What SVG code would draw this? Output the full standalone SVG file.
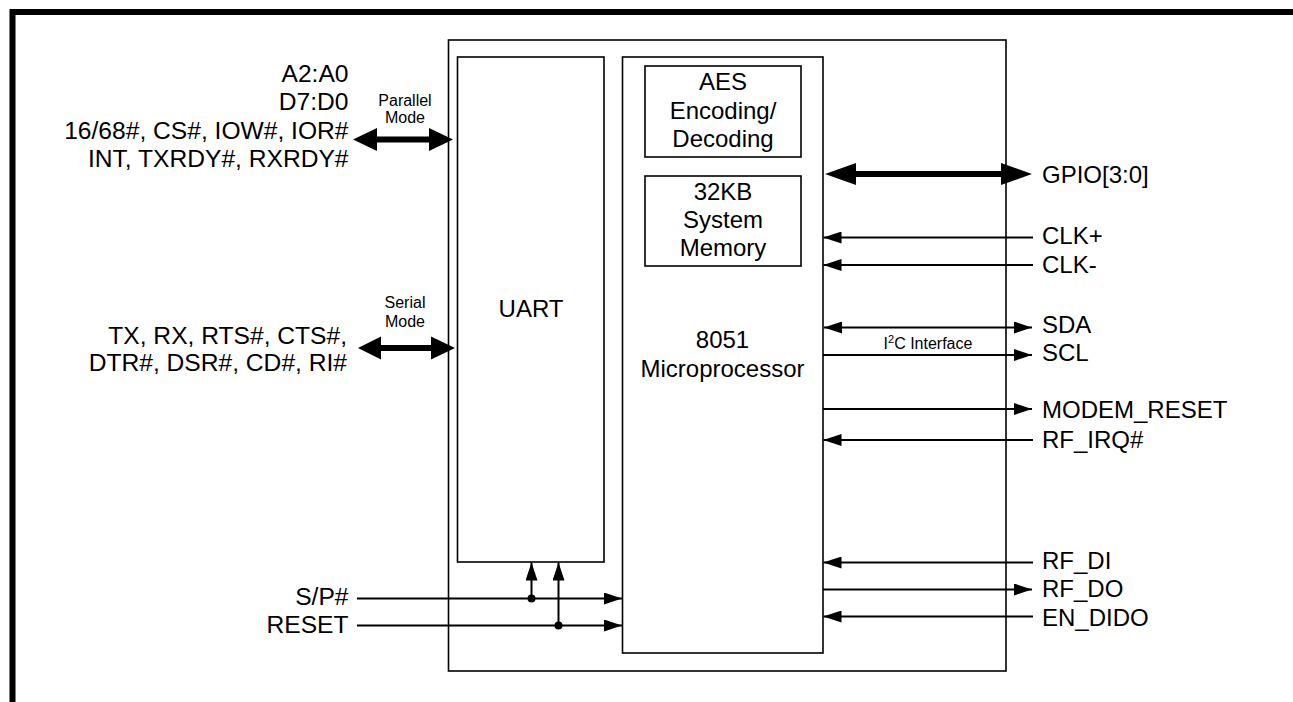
<svg xmlns="http://www.w3.org/2000/svg" width="1293" height="702" viewBox="0 0 1293 702">
<style>
  .box { fill: #fff; stroke: #000; stroke-width: 1.6; }
  .lbl { font-family: "Liberation Sans", Arial, sans-serif; font-size: 24px; fill: #000; }
  .lft { font-size: 24.6px; }
  .sm { font-family: "Liberation Sans", Arial, sans-serif; font-size: 16px; fill: #000; }
  .mid { text-anchor: middle; }
  .end { text-anchor: end; }
  .wire { stroke: #000; stroke-width: 2; fill: none; }
  .bus { fill: #000; stroke: none; }
  .dot { fill: #000; }
</style>
<defs>
  <marker id="ah" markerUnits="userSpaceOnUse" markerWidth="18" markerHeight="12" refX="18" refY="6" orient="auto-start-reverse">
    <path d="M0,0 L18,6 L0,12 z" fill="#000"/>
  </marker>
</defs>
<rect width="1293" height="702" fill="#fff"/>
<path d="M12.5,702 V12 H1293" fill="none" stroke="#000" stroke-width="6" stroke-linejoin="miter"/>

<g id="chip">
  <rect class="box" x="448.5" y="40" width="557.5" height="631"/>
</g>
<g id="uart">
  <rect class="box" x="457.5" y="57" width="146.5" height="505"/>
  <text class="lbl mid" x="531" y="317">UART</text>
</g>
<g id="mcu">
  <rect class="box" x="622.5" y="57" width="200.5" height="596"/>
  <text class="lbl mid" x="722.5" y="348">8051</text>
  <text class="lbl mid" x="722.5" y="376.5">Microprocessor</text>
</g>
<g id="aes">
  <rect class="box" x="645" y="66" width="156" height="91"/>
  <text class="lbl mid" x="723" y="90">AES</text>
  <text class="lbl mid" x="723" y="118.5">Encoding/</text>
  <text class="lbl mid" x="723" y="147">Decoding</text>
</g>
<g id="memory">
  <rect class="box" x="645" y="176" width="156" height="90"/>
  <text class="lbl mid" x="723" y="199.5">32KB</text>
  <text class="lbl mid" x="723" y="227.5">System</text>
  <text class="lbl mid" x="723" y="255.5">Memory</text>
</g>

<g id="connectors">
  <polygon class="bus" points="353,139.5 377,128 377,136.5 429,136.5 429,128 453,139.5 429,151 429,142.5 377,142.5 377,151"/>
  <polygon class="bus" points="358,348 381,336.5 381,345 431,345 431,336.5 455,348 431,359.5 431,351 381,351 381,359.5"/>
  <polygon class="bus" points="825,174 856,163 856,171 1001,171 1001,163 1032,174 1001,185 1001,177 856,177 856,185"/>
  <line class="wire" x1="1033" y1="237.5" x2="823.5" y2="237.5" marker-end="url(#ah)"/>
  <line class="wire" x1="1033" y1="265" x2="823.5" y2="265" marker-end="url(#ah)"/>
  <line class="wire" x1="824" y1="327.5" x2="1032" y2="327.5" marker-start="url(#ah)" marker-end="url(#ah)"/>
  <line class="wire" x1="823" y1="355" x2="1032" y2="355" marker-end="url(#ah)"/>
  <line class="wire" x1="823" y1="409" x2="1032" y2="409" marker-end="url(#ah)"/>
  <line class="wire" x1="1033" y1="440" x2="823.5" y2="440" marker-end="url(#ah)"/>
  <line class="wire" x1="1033" y1="562.5" x2="823.5" y2="562.5" marker-end="url(#ah)"/>
  <line class="wire" x1="823" y1="589.5" x2="1032" y2="589.5" marker-end="url(#ah)"/>
  <line class="wire" x1="1033" y1="616.5" x2="823.5" y2="616.5" marker-end="url(#ah)"/>
  <line class="wire" x1="357" y1="598.5" x2="622" y2="598.5" marker-end="url(#ah)"/>
  <line class="wire" x1="357" y1="625.5" x2="622" y2="625.5" marker-end="url(#ah)"/>
  <line class="wire" x1="531.5" y1="598.5" x2="531.5" y2="562.5" marker-end="url(#ah)"/>
  <line class="wire" x1="558.5" y1="625.5" x2="558.5" y2="562.5" marker-end="url(#ah)"/>
  <circle class="dot" cx="531.5" cy="598.5" r="4"/>
  <circle class="dot" cx="558.5" cy="625.5" r="4"/>
</g>

<g id="labels-left">
  <text class="lbl lft end" x="348.5" y="81.5">A2:A0</text>
  <text class="lbl lft end" x="348.5" y="110">D7:D0</text>
  <text class="lbl lft end" x="348.5" y="138.5">16/68#, CS#, IOW#, IOR#</text>
  <text class="lbl lft end" x="348.5" y="166.5">INT, TXRDY#, RXRDY#</text>
  <text class="sm mid" x="405" y="105.5">Parallel</text>
  <text class="sm mid" x="405" y="123">Mode</text>
  <text class="sm mid" x="405" y="308">Serial</text>
  <text class="sm mid" x="405" y="326.5">Mode</text>
  <text class="lbl lft end" x="347" y="343.5">TX, RX, RTS#, CTS#,</text>
  <text class="lbl lft end" x="347" y="370.5">DTR#, DSR#, CD#, RI#</text>
  <text class="lbl lft end" x="348.5" y="604.5">S/P#</text>
  <text class="lbl lft end" x="348.5" y="633">RESET</text>
</g>

<g id="labels-right">
  <text class="lbl" x="1042" y="182.5">GPIO[3:0]</text>
  <text class="lbl" x="1042" y="244">CLK+</text>
  <text class="lbl" x="1042" y="272.5">CLK-</text>
  <text class="lbl" x="1042" y="332.5">SDA</text>
  <text class="lbl" x="1042" y="361">SCL</text>
  <text class="lbl" x="1042" y="417.5">MODEM_RESET</text>
  <text class="lbl" x="1042" y="447.5">RF_IRQ#</text>
  <text class="lbl" x="1042" y="569">RF_DI</text>
  <text class="lbl" x="1042" y="597">RF_DO</text>
  <text class="lbl" x="1042" y="626">EN_DIDO</text>
  <text class="sm mid" x="928" y="349">I<tspan font-size="11" dy="-6">2</tspan><tspan dy="6">C Interface</tspan></text>
</g>
</svg>
